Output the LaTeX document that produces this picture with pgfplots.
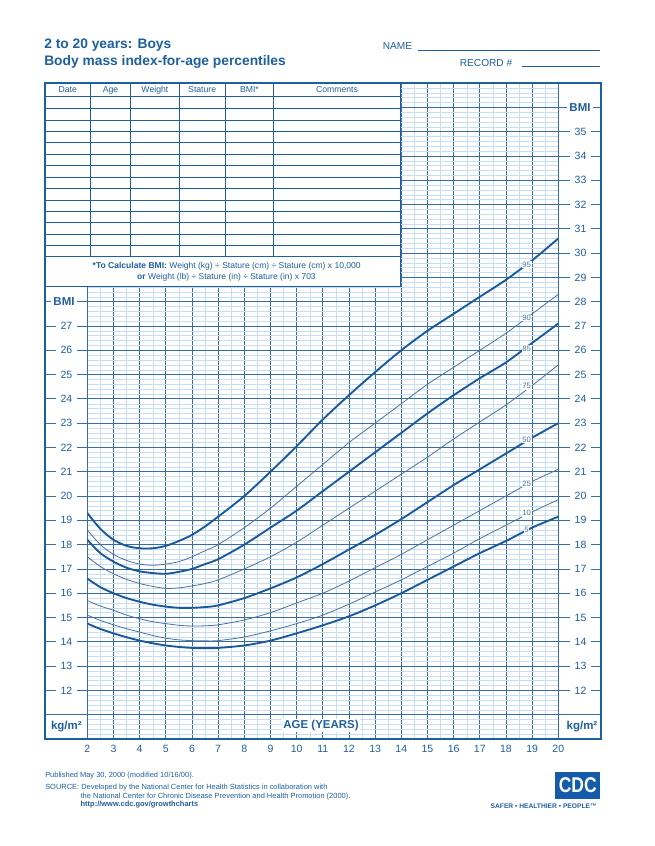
\documentclass[border=0pt]{standalone}
\usepackage{fontspec}
\setmainfont{Liberation Sans}
\usepackage{pgfplots}
\pgfplotsset{compat=1.18}

\definecolor{cdcblue}{RGB}{30,95,160}
\definecolor{gridmaj}{RGB}{55,108,165}
\definecolor{gridmin}{RGB}{200,221,240}
\definecolor{curvedark}{RGB}{25,88,155}
\definecolor{curvethin}{RGB}{72,114,160}
\definecolor{logoblue}{RGB}{20,92,170}

\newcommand{\numfont}{\fontsize{7.9}{9}\selectfont}
\newcommand{\lblfont}{\fontsize{8.6}{10}\selectfont\bfseries}

\begin{document}
\begin{tikzpicture}
% page frame in pixels of the reference (origin top left)
\begin{scope}[x=0.75pt,y=-0.75pt]
  \path[use as bounding box] (0,0) rectangle (654,846);
\end{scope}

\begin{axis}[
  at={(65.475pt,-554.25pt)}, anchor=south west,
  scale only axis, width=353.25pt, height=492pt,
  xmin=2, xmax=20, ymin=10, ymax=37,
  xtick={2,...,20}, minor x tick num=1,
  ytick={10,...,37}, minor y tick num=4,
  yticklabel={\relax},
  major tick length=0pt, minor tick length=0pt,
  grid=both,
  major grid style={draw=gridmaj, line width=0.55pt},
  minor grid style={draw=gridmin, line width=0.3pt},
  axis line style={draw=gridmaj, line width=0.55pt},
  /pgf/number format/assume math mode=true,
  xticklabel style={font=\numfont, text=cdcblue, anchor=center, yshift=-7.5pt},
  every axis plot/.append style={smooth, no marks},
]
% 95th
\addplot[curvedark, line width=1.4pt] coordinates {
 (2,19.3)(2.5,18.65)(3,18.2)(3.5,17.95)(4,17.85)(4.5,17.85)(5,17.95)(5.5,18.15)
 (6,18.4)(6.5,18.75)(7,19.15)(8,20.0)(9,21.0)(10,22.05)(11,23.15)(12,24.15)
 (13,25.1)(14,26.0)(15,26.8)(16,27.5)(17,28.2)(18,28.9)(19,29.7)(20,30.6)};
% 90th
\addplot[curvethin, line width=0.6pt] coordinates {
 (2,18.6)(2.5,18.0)(3,17.6)(3.5,17.35)(4,17.2)(4.5,17.15)(5,17.2)(5.5,17.3)
 (6,17.5)(6.5,17.75)(7,18.0)(8,18.7)(9,19.5)(10,20.4)(11,21.3)(12,22.2)
 (13,23.0)(14,23.8)(15,24.6)(16,25.3)(17,26.0)(18,26.7)(19,27.5)(20,28.3)};
% 85th
\addplot[curvedark, line width=1.4pt] coordinates {
 (2,18.2)(2.5,17.65)(3,17.3)(3.5,17.05)(4,16.9)(4.5,16.83)(5,16.8)(5.5,16.88)
 (6,17.0)(6.5,17.2)(7,17.4)(8,18.0)(9,18.7)(10,19.4)(11,20.2)(12,21.0)
 (13,21.8)(14,22.6)(15,23.4)(16,24.15)(17,24.85)(18,25.5)(19,26.3)(20,27.1)};
% 75th
\addplot[curvethin, line width=0.6pt] coordinates {
 (2,17.5)(2.5,17.1)(3,16.8)(3.5,16.57)(4,16.4)(4.5,16.28)(5,16.2)(5.5,16.22)
 (6,16.3)(6.5,16.4)(7,16.55)(8,17.0)(9,17.5)(10,18.1)(11,18.8)(12,19.5)
 (13,20.2)(14,20.9)(15,21.6)(16,22.35)(17,23.05)(18,23.75)(19,24.55)(20,25.4)};
% 50th
\addplot[curvedark, line width=1.4pt] coordinates {
 (2,16.6)(2.5,16.25)(3,16.0)(3.5,15.8)(4,15.65)(4.5,15.53)(5,15.45)(5.5,15.4)
 (6,15.4)(6.5,15.43)(7,15.5)(8,15.8)(9,16.2)(10,16.65)(11,17.2)(12,17.8)
 (13,18.4)(14,19.05)(15,19.75)(16,20.45)(17,21.1)(18,21.75)(19,22.4)(20,23.0)};
% 25th
\addplot[curvethin, line width=0.6pt] coordinates {
 (2,15.7)(2.5,15.47)(3,15.3)(3.5,15.1)(4,14.95)(4.5,14.83)(5,14.75)(5.5,14.68)
 (6,14.65)(6.5,14.66)(7,14.7)(8,14.9)(9,15.2)(10,15.6)(11,16.0)(12,16.5)
 (13,17.05)(14,17.6)(15,18.2)(16,18.8)(17,19.4)(18,20.0)(19,20.6)(20,21.1)};
% 10th
\addplot[curvethin, line width=0.6pt] coordinates {
 (2,15.1)(2.5,14.88)(3,14.7)(3.5,14.54)(4,14.4)(4.5,14.26)(5,14.15)(5.5,14.08)
 (6,14.05)(6.5,14.04)(7,14.05)(8,14.2)(9,14.45)(10,14.75)(11,15.1)(12,15.55)
 (13,16.05)(14,16.55)(15,17.1)(16,17.65)(17,18.25)(18,18.8)(19,19.35)(20,19.85)};
% 5th
\addplot[curvedark, line width=1.4pt] coordinates {
 (2,14.75)(2.5,14.53)(3,14.35)(3.5,14.19)(4,14.05)(4.5,13.94)(5,13.85)(5.5,13.79)
 (6,13.75)(6.5,13.74)(7,13.75)(8,13.85)(9,14.05)(10,14.35)(11,14.68)(12,15.05)
 (13,15.5)(14,16.0)(15,16.55)(16,17.1)(17,17.65)(18,18.15)(19,18.7)(20,19.15)};

\foreach \p/\v in {95/29.52,90/27.33,85/26.06,75/24.52,50/22.33,25/20.50,10/19.29,5/18.61}{
  \edef\tmp{\noexpand\node[fill=white, inner sep=0.5pt, text=curvethin,
    font=\noexpand\fontsize{5.8}{6}\noexpand\selectfont] at (axis cs:18.79,\v) {\p};}
  \tmp
}
\end{axis}

\begin{scope}[x=0.75pt,y=-0.75pt]
  % record table in the top left
  \fill[white] (45,83) rectangle (400.8,286);
  \begin{scope}[draw=cdcblue, line width=0.55pt]
    \foreach \yy in {96.7,108.3,120,131.7,142.7,154.3,165.7,177.3,188.7,200,211.3,222.7,234.3,245.7,256.7}
      \draw (45,\yy) -- (400.8,\yy);
    \foreach \xx in {90.4,130.8,179,225.4,273.3}
      \draw (\xx,83) -- (\xx,256.7);
    \draw (400.8,83) -- (400.8,286);
    \draw (45,286) -- (400.8,286);
  \end{scope}
  \begin{scope}[font=\fontsize{6.5}{7}\selectfont, text=cdcblue]
    \node at (67.7,90) {Date};
    \node at (110.6,90) {Age};
    \node at (154.9,90) {Weight};
    \node at (202.2,90) {Stature};
    \node at (249.4,90) {BMI*};
    \node at (337,90) {Comments};
  \end{scope}
  \begin{scope}[font=\fontsize{6.4}{7}\selectfont, text=cdcblue]
    \node at (226.7,266.7) {\textbf{*To Calculate BMI:} Weight (kg) ÷ Stature (cm) ÷ Stature (cm) x 10,000};
    \node at (226.5,277.3) {\textbf{or} Weight (lb) ÷ Stature (in) ÷ Stature (in) x 703};
  \end{scope}

  % BMI scales in the side margins
  \foreach \b in {12,...,27}{
    \pgfmathsetmacro{\yy}{739-(\b-10)*24.2963}
    \draw[gridmaj, line width=0.55pt] (45,\yy) -- (87.3,\yy);
    \node[fill=white, inner xsep=3.5pt, inner ysep=0pt, font=\numfont, text=cdcblue] at (66.5,\yy) {\b};
  }
  \pgfmathsetmacro{\yy}{739-18*24.2963}
  \draw[gridmaj, line width=0.55pt] (45,\yy) -- (87.3,\yy);
  \node[fill=white, inner xsep=2pt, inner ysep=0pt, font=\lblfont, text=cdcblue] at (64,\yy) {BMI};
  \foreach \b in {12,...,35}{
    \pgfmathsetmacro{\yy}{739-(\b-10)*24.2963}
    \draw[gridmaj, line width=0.55pt] (558.3,\yy) -- (601,\yy);
    \node[fill=white, inner xsep=3.5pt, inner ysep=0pt, font=\numfont, text=cdcblue] at (580.5,\yy) {\b};
  }
  \pgfmathsetmacro{\yy}{739-26*24.2963}
  \draw[gridmaj, line width=0.55pt] (558.3,\yy) -- (601,\yy);
  \node[fill=white, inner xsep=2pt, inner ysep=0pt, font=\lblfont, text=cdcblue] at (580,\yy) {BMI};

  % bottom row
  \draw[gridmaj, line width=0.55pt] (45,714) -- (87.3,714) (558.3,714) -- (601,714);
  \node[font=\lblfont, text=cdcblue] at (66.3,726.5) {kg/m²};
  \node[font=\lblfont, text=cdcblue] at (582,726.5) {kg/m²};
  \node[fill=white, inner sep=1pt, font=\lblfont, text=cdcblue] at (321,725.7) {AGE (YEARS)};

  % outer frame
  \draw[cdcblue, line width=0.8pt] (45,83) rectangle (601,739);

  % titles
  \begin{scope}[font=\fontsize{10.35}{12}\selectfont\bfseries, text=cdcblue]
    \node[anchor=west, inner sep=0] at (44,45) {2 to 20 years: Boys};
    \node[anchor=west, inner sep=0] at (44,62) {Body mass index-for-age percentiles};
  \end{scope}
  \begin{scope}[font=\fontsize{7.6}{9}\selectfont, text=cdcblue]
    \node[anchor=west, inner sep=0] at (382.5,46) {NAME};
    \node[anchor=west, inner sep=0] at (459.6,63) {RECORD \#};
  \end{scope}
  \draw[cdcblue, line width=0.5pt] (418,50) -- (600,50) (521.7,66.7) -- (600,66.7);

  % footer
  \begin{scope}[font=\fontsize{5.6}{6.5}\selectfont, text=cdcblue]
    \node[anchor=west, inner sep=0] at (45,775.7) {Published May 30, 2000 (modified 10/16/00).};
    \node[anchor=west, inner sep=0] at (45,787.3) {SOURCE: Developed by the National Center for Health Statistics in collaboration with};
    \node[anchor=west, inner sep=0] at (80.4,796.7) {the National Center for Chronic Disease Prevention and Health Promotion (2000).};
    \node[anchor=west, inner sep=0] at (80.4,805) {\bfseries http://www.cdc.gov/growthcharts};
  \end{scope}

  % CDC logo
  \fill[logoblue] (555.4,772.3) rectangle (600,799);
  \node[text=white, font=\fontsize{16}{16}\selectfont\bfseries, xscale=0.82] at (577.7,785) {CDC};
  \node[text=cdcblue, font=\fontsize{5}{6}\selectfont\bfseries] at (543.7,805.7) {SAFER • HEALTHIER • PEOPLE™};
\end{scope}
\end{tikzpicture}
\end{document}
